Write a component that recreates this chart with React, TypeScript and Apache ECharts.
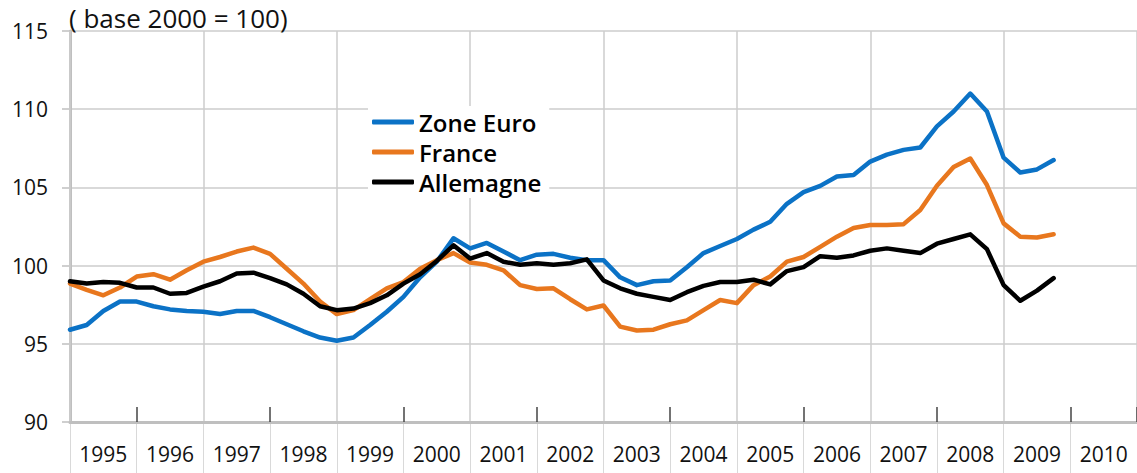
import React, { useEffect, useRef } from "react";
import * as echarts from "echarts";

const years = ["1995","1996","1997","1998","1999","2000","2001","2002","2003","2004","2005","2006","2007","2008","2009","2010"];
const yTicks = { min: 90, max: 115, interval: 5 };
const titleText = "( base 2000 = 100)";

// Quarterly values, 1995Q1 .. 2009Q4
const zoneEuro = [
  95.9, 96.2, 97.1, 97.7, 97.7, 97.4, 97.2, 97.1, 97.05, 96.9, 97.1, 97.1,
  96.7, 96.25, 95.8, 95.4, 95.2, 95.4, 96.2, 97.05, 98.0, 99.25, 100.25, 101.75,
  101.1, 101.45, 100.9, 100.35, 100.7, 100.75, 100.5, 100.35, 100.35, 99.25, 98.75, 99.0,
  99.05, 99.9, 100.8, 101.25, 101.7, 102.3, 102.8, 103.95, 104.7, 105.1, 105.7, 105.8,
  106.65, 107.1, 107.4, 107.55, 108.9, 109.85, 111.0, 109.85, 106.9, 105.95, 106.15, 106.75,
];
const france = [
  98.85, 98.45, 98.1, 98.6, 99.3, 99.45, 99.1, 99.7, 100.25, 100.55, 100.9, 101.15,
  100.75, 99.8, 98.85, 97.7, 96.9, 97.15, 97.85, 98.55, 98.95, 99.8, 100.35, 100.8,
  100.2, 100.05, 99.7, 98.75, 98.5, 98.55, 97.85, 97.2, 97.45, 96.1, 95.85, 95.9,
  96.25, 96.5, 97.15, 97.8, 97.6, 98.75, 99.3, 100.25, 100.55, 101.2, 101.85, 102.4,
  102.6, 102.6, 102.65, 103.55, 105.1, 106.3, 106.85, 105.15, 102.7, 101.85, 101.8, 102.0,
];
const allemagne = [
  99.0, 98.85, 98.95, 98.9, 98.6, 98.6, 98.2, 98.25, 98.65, 99.0, 99.5, 99.55,
  99.2, 98.8, 98.2, 97.4, 97.15, 97.25, 97.6, 98.1, 98.85, 99.45, 100.3, 101.3,
  100.45, 100.8, 100.25, 100.05, 100.15, 100.05, 100.15, 100.4, 99.05, 98.55, 98.2, 98.0,
  97.8, 98.3, 98.7, 98.95, 98.95, 99.1, 98.8, 99.65, 99.9, 100.6, 100.5, 100.65,
  100.95, 101.1, 100.95, 100.8, 101.4, 101.7, 102.0, 101.05, 98.75, 97.75, 98.4, 99.2,
];
const seriesNames = ["Zone Euro", "France", "Allemagne"];
const seriesColors = ["#0b72c6", "#e8771e", "#000000"];

const FONT = "'Open Sans', Lato, sans-serif";

export default function App() {
  const ref = useRef<HTMLDivElement>(null);
  useEffect(() => {
    document.body.style.margin = "0";
    if (!ref.current) return;
    const chart = echarts.init(ref.current, undefined, { renderer: "svg" });
    const toPts = (arr: number[]) => arr.map((v, i) => [i, v]);
    const all = [zoneEuro, france, allemagne];
    chart.setOption({
      animation: false,
      backgroundColor: "#ffffff",
      textStyle: { fontFamily: FONT },
      title: {
        text: titleText,
        left: 64,
        top: 0,
        textStyle: { fontFamily: FONT, fontSize: 26, fontWeight: "normal", color: "#111" },
      },
      legend: {
        data: seriesNames,
        orient: "vertical",
        left: 368,
        top: 106,
        itemWidth: 42,
        itemHeight: 5,
        itemGap: 6,
        icon: "roundRect",
        backgroundColor: "#ffffff",
        padding: [4, 8, 4, 4],
        textStyle: { fontFamily: FONT, fontSize: 24, fontWeight: 600, color: "#000" },
      },
      grid: { left: 70, top: 31, width: 1072, height: 391 },
      xAxis: [
        {
          type: "category",
          data: years,
          position: "bottom",
          boundaryGap: true,
          axisLine: { show: true, lineStyle: { color: "#bfbfbf", width: 3 } },
          axisTick: {
            show: true,
            inside: true,
            length: 15,
            interval: (i: number) => i % 2 === 1,
            lineStyle: { color: "#444", width: 1.5 },
          },
          axisLabel: { show: true, interval: 0, margin: 21, fontSize: 21, color: "#111", fontFamily: FONT },
          splitLine: {
            show: true,
            interval: (i: number) => i % 2 === 0,
            lineStyle: { color: "#cccccc", width: 1.5 },
          },
          z: 3,
        },
        {
          type: "category",
          data: years,
          position: "bottom",
          offset: 0,
          boundaryGap: true,
          axisLine: { show: false },
          axisTick: { show: true, inside: false, length: 52, interval: 0, lineStyle: { color: "#d9d9d9", width: 1 } },
          axisLabel: { show: false },
          splitLine: { show: false },
        },
        {
          type: "value",
          min: 0,
          max: 64,
          show: false,
          position: "bottom",
          splitLine: { show: false },
        },
      ],
      yAxis: {
        type: "value",
        min: yTicks.min,
        max: yTicks.max,
        interval: yTicks.interval,
        axisLine: { show: true, lineStyle: { color: "#bfbfbf", width: 3 } },
        axisTick: { show: true, inside: false, length: 8, lineStyle: { color: "#bfbfbf", width: 1.5 } },
        axisLabel: { margin: 22, fontSize: 21, color: "#111", fontFamily: FONT },
        splitLine: { show: true, lineStyle: { color: "#cccccc", width: 1.5 } },
      },
      series: all.map((arr, k) => ({
        name: seriesNames[k],
        type: "line",
        xAxisIndex: 2,
        data: toPts(arr),
        showSymbol: false,
        symbol: "none",
        lineStyle: { color: seriesColors[k], width: 4.5, cap: "round", join: "round" },
        itemStyle: { color: seriesColors[k] },
        z: 5 + k,
      })),
    });
    return () => chart.dispose();
  }, []);
  return <div ref={ref} style={{ position: "fixed", left: 0, top: 0, width: 1137, height: 473 }} />;
}
